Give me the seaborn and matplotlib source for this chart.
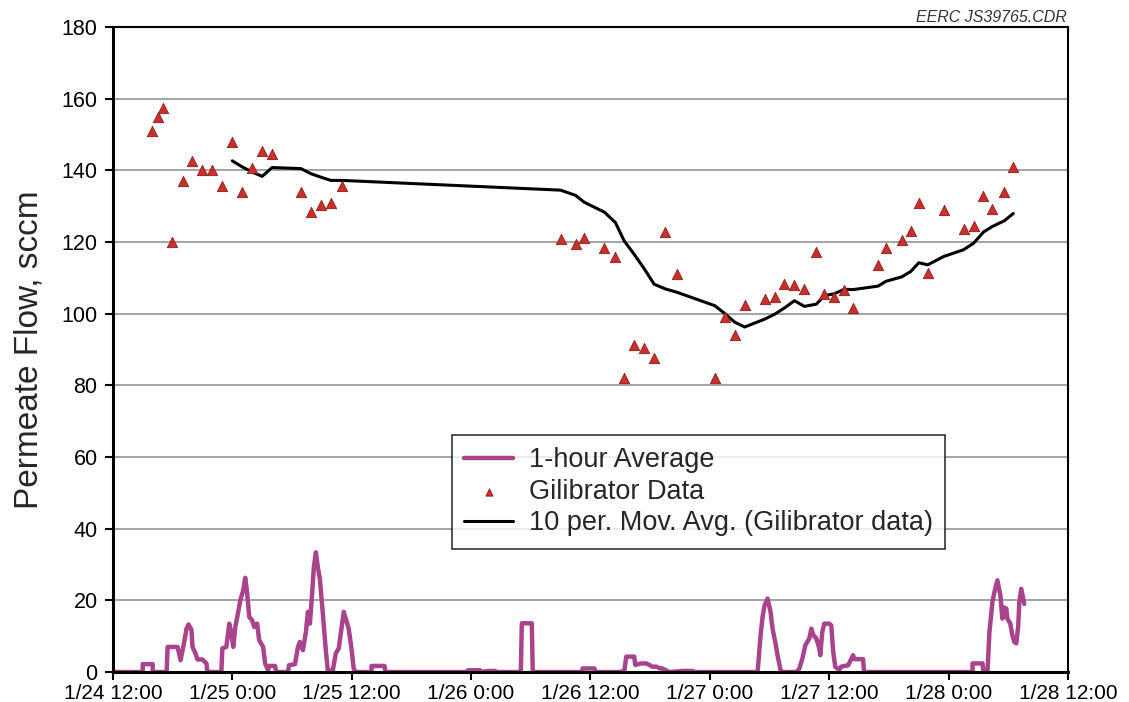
"""
Permeate flow vs time: 1-hour average, Gilibrator readings and 10-point moving average
"""
import matplotlib
matplotlib.use('Agg')
import matplotlib.pyplot as plt
import matplotlib.dates as mdates
from matplotlib.ticker import FuncFormatter, MultipleLocator
import seaborn as sns
import pandas as pd

START = pd.Timestamp('2010-01-24 12:00')

# 1-hour average trace (hours after 1/24 12:00, sccm)
avg_hours = [0.0, 3.0, 3.0, 4.0, 4.0, 5.4, 5.5, 6.5, 6.8, 7.0, 7.2, 7.4, 7.6, 7.9, 8.0,
             8.3, 8.5, 9.0, 9.4, 9.5, 10.9, 11.0, 11.4, 11.7, 11.9, 12.1, 12.3, 12.6,
             12.8, 13.1, 13.3, 13.5, 13.7, 14.0, 14.2, 14.5, 14.7, 15.1, 15.3, 15.6,
             15.7, 16.3, 16.4, 17.6, 17.7, 18.3, 18.6, 18.8, 19.1, 19.4, 19.6, 19.8,
             20.0, 20.2, 20.4, 20.6, 20.8, 21.1, 21.4, 21.6, 22.1, 22.4, 22.7, 23.0,
             23.2, 23.5, 23.7, 24.0, 24.2, 24.4, 26.0, 26.0, 27.3, 27.4, 35.6, 35.7,
             36.9, 37.0, 37.7, 38.4, 38.5, 41.0, 41.1, 42.1, 42.2, 47.2, 47.2, 48.4,
             48.5, 50.9, 51.4, 51.6, 52.4, 52.5, 53.1, 53.6, 53.9, 54.2, 54.6, 55.0,
             55.2, 55.6, 55.9, 57.3, 58.3, 58.4, 64.8, 65.1, 65.3, 65.5, 65.8, 66.1,
             66.3, 66.6, 66.8, 67.1, 67.3, 68.7, 69.0, 69.3, 69.6, 70.0, 70.2, 70.4,
             70.7, 71.0, 71.1, 71.3, 71.5, 72.0, 72.2, 72.4, 72.6, 73.0, 73.2, 73.9,
             74.4, 74.5, 75.4, 75.5, 86.4, 86.4, 87.4, 87.5, 87.9, 88.1, 88.4, 88.6,
             88.9, 89.2, 89.4, 89.5, 89.8, 89.9, 90.2, 90.4, 90.6, 90.8, 91.0, 91.1,
             91.3, 91.5, 91.6]
avg_flow = [0, 0, 2.2, 2.2, 0, 0, 7, 7, 3.3, 6, 8.9, 12.1, 13.3, 11.7, 7,
            5.2, 3.5, 3.5, 2.4, 0, 0, 6.6, 7, 13.5, 10.7, 7, 12.6, 16.8,
            20, 22.8, 26.3, 21.9, 15.4, 14.4, 12.6, 13.5, 8.9, 7, 2.4, 0.5,
            1.7, 1.7, 0, 0, 1.9, 2.2, 7, 8.4, 6.1, 11.2, 16.8, 13.5,
            20.9, 29.3, 33.4, 29.3, 26, 16.3, 6.1, 0.5, 0.4, 5.2, 6.6, 12.6,
            16.8, 14, 12.1, 6.1, 1, 0, 0, 1.7, 1.7, 0, 0, 0.5,
            0.5, 0, 0.3, 0.3, 0, 0, 13.6, 13.6, 0, 0, 1, 1,
            0, 0, 0.3, 4.3, 4.3, 2, 2.4, 2.4, 2, 1.5, 1.5, 1,
            1, 0.5, 0, 0.3, 0.3, 0, 0, 10.3, 15.4, 18.6, 20.5, 16.8,
            12.1, 8, 4.7, 0.6, 0, 0, 1, 3.8, 7.5, 9.4, 12.1, 10.3,
            9.4, 6.6, 4.7, 11.2, 13.5, 13.5, 13, 5.6, 1.5, 0.6, 1.5, 1.9,
            4.7, 3.6, 3.6, 0, 0, 2.4, 2.4, 0, 0, 11.2, 19.5, 22.3,
            25.6, 21.4, 14.9, 18.1, 17.7, 14.9, 13.5, 10.3, 8.4, 8, 13.1, 19.5,
            23.2, 20.5, 19]

# Gilibrator readings
gil_hours = [3.9, 4.5, 5.0, 5.9, 7.0, 8.0, 9.0, 10.0, 11.0, 12.0, 13.0, 14.0, 15.0,
             16.0, 18.9, 19.9, 20.9, 21.9, 23.0,
             45.0, 46.5, 47.4, 49.4, 50.5, 51.4, 52.4, 53.4, 54.4, 55.5, 56.7, 60.5,
             61.5, 62.5, 63.5, 65.5, 66.5, 67.5, 68.5, 69.5, 70.7, 71.5, 72.5, 73.5,
             74.4, 76.9, 77.7, 79.3, 80.2, 81.0, 81.9, 83.5, 85.5, 86.5, 87.5, 88.4,
             89.6, 90.5]
gil_flow = [151, 155, 157.4, 120, 137, 142.6, 140, 140, 135.6, 148, 134, 140.7, 145.4,
            144.6, 134, 128.4, 130.3, 131, 135.6,
            120.8, 119.4, 121.1, 118.2, 115.8, 82.1, 91.2, 90.4, 87.7, 122.7, 111.1, 82,
            99.2, 94.1, 102.3, 104, 104.7, 108.2, 108, 106.8, 117.3, 105.5, 104.7, 106.6,
            101.5, 113.6, 118.2, 120.6, 123.2, 131, 111.4, 128.8, 123.6, 124.6, 132.9, 129.1,
            134.1, 141]

avg_df = pd.DataFrame({'time': START + pd.to_timedelta(avg_hours, unit='h'),
                       'flow': avg_flow})
gil_df = pd.DataFrame({'time': START + pd.to_timedelta(gil_hours, unit='h'),
                       'flow': gil_flow})
gil_df['ma'] = gil_df['flow'].rolling(10).mean()
ma_df = gil_df.dropna()

sns.set_style('white')
plt.rcParams['font.family'] = ['Liberation Sans', 'DejaVu Sans']

fig = plt.figure(figsize=(11.29, 7.02), dpi=100)
ax = fig.add_axes([0.100, 0.0427, 0.846, 0.9188])

ax.grid(axis='y', color='#8c8c8c', linewidth=1.1)
ax.set_axisbelow(True)

sns.lineplot(data=avg_df, x='time', y='flow', ax=ax, estimator=None, sort=False,
             color='#A8438C', linewidth=3.2, label='1-hour Average')
sns.scatterplot(data=gil_df, x='time', y='flow', ax=ax, marker='^', s=55,
                color='#C9302C', edgecolor='#8E1B1B', linewidth=0.6,
                label='Gilibrator Data', zorder=3)
sns.lineplot(data=ma_df, x='time', y='ma', ax=ax, estimator=None, sort=False,
             color='black', linewidth=2.2, label='10 per. Mov. Avg. (Gilibrator data)')

ax.set_xlim(START, START + pd.Timedelta(hours=96))
ax.set_ylim(0, 180)
ax.yaxis.set_major_locator(MultipleLocator(20))
ax.xaxis.set_major_locator(mdates.HourLocator(byhour=[0, 12]))


def fmt_time(x, pos):
    d = mdates.num2date(x)
    return f"{d.month}/{d.day} {d.hour}:{d.minute:02d}"


ax.xaxis.set_major_formatter(FuncFormatter(fmt_time))
ax.tick_params(axis='both', length=6, width=1.5, direction='out',
               colors='black', bottom=True, left=True)
ax.tick_params(axis='y', labelsize=15.5, pad=5)
ax.tick_params(axis='x', labelsize=15, pad=2.5)
ax.set_xlabel('')
ax.set_ylabel('Permeate Flow, sccm', fontsize=24, labelpad=12)

for side in ['left', 'bottom']:
    ax.spines[side].set_linewidth(2.2)
for side in ['top', 'right']:
    ax.spines[side].set_linewidth(1.5)
for s in ax.spines.values():
    s.set_color('black')

leg = ax.legend(loc='upper left', bbox_to_anchor=(0.355, 0.367), borderaxespad=0,
                fontsize=19.5, frameon=True, fancybox=False, handlelength=1.8,
                handletextpad=0.6, labelspacing=0.2, borderpad=0.45, markerscale=0.7)
leg.get_frame().set_edgecolor('black')
leg.get_frame().set_linewidth(1.2)

fig.text(0.945, 0.965, 'EERC JS39765.CDR', ha='right', va='bottom',
         fontsize=11.5, style='italic', color='#333333')

fig.savefig('out.png', dpi=100)
